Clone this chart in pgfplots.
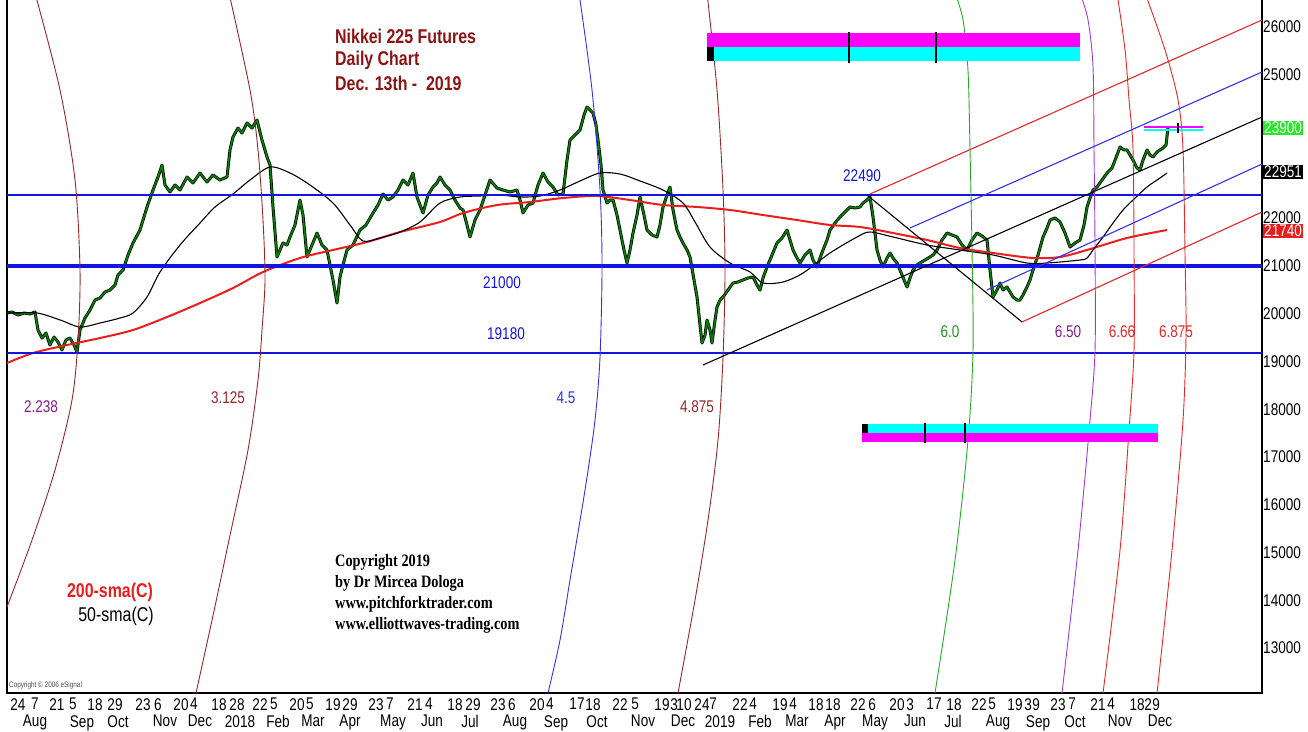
\documentclass[border=0pt]{standalone}
\usepackage{pgfplots}
\pgfplotsset{compat=1.18}
\usepackage{pgfplotstable}
\usepackage{fontspec}
\setmainfont{Liberation Sans}[FakeStretch=0.8]
\newfontfamily\serifb{Liberation Serif}[FakeStretch=0.82]
\definecolor{lineblue}{RGB}{20,20,225}
\definecolor{darkred}{RGB}{140,20,20}
\definecolor{arcbrown}{RGB}{150,40,40}
\definecolor{arcblue}{RGB}{50,50,235}
\definecolor{arcgreen}{RGB}{40,170,40}
\definecolor{arcpurple}{RGB}{160,60,210}
\definecolor{arcred}{RGB}{230,40,40}
\definecolor{smared}{RGB}{235,30,30}
\definecolor{candle}{RGB}{0,135,0}
\definecolor{lblpurple}{RGB}{130,30,140}
\definecolor{lblgreen}{RGB}{30,150,30}
\definecolor{boxgreen}{RGB}{40,230,40}
\definecolor{boxred}{RGB}{230,30,30}
\definecolor{barmag}{RGB}{255,0,255}
\definecolor{barcyan}{RGB}{0,255,255}

\pgfplotstableread{
x c
7 20014
12 20035
18 19972
24 20014
30 19993
35 20035
38 19658
42 19490
46 19595
50 19344
54 19511
58 19407
62 19240
66 19449
70 19490
74 19344
77 19198
80 19658
85 19909
90 20077
95 20286
100 20328
105 20453
110 20495
115 20600
118 20809
123 20914
128 21228
133 21479
140 21751
147 22233
153 22588
158 22860
162 23112
165 22693
170 22547
175 22693
180 22588
187 22860
193 22735
200 22944
207 22756
213 22902
220 22798
227 22860
230 23426
233 23698
238 23886
242 23781
247 23991
252 23886
257 24053
262 23635
267 23279
270 23112
273 22233
277 21186
280 21333
283 21479
287 21437
290 21605
295 21856
300 22379
303 22065
307 21186
312 21437
317 21688
322 21437
327 21333
330 21019
333 20705
337 20223
340 20767
343 21019
347 21333
353 21437
360 21751
366 21856
373 22107
378 22274
383 22505
388 22379
393 22442
398 22588
403 22798
408 22693
413 22944
417 22442
420 22274
423 22107
428 22484
433 22651
437 22735
440 22860
445 22693
450 22588
455 22379
460 22212
463 22170
467 21856
470 21605
475 21960
480 22170
485 22484
490 22798
497 22630
503 22588
510 22547
517 22588
520 22379
523 22107
528 22274
533 22316
538 22693
543 22944
548 22756
553 22651
558 22484
563 22505
567 23216
570 23635
575 23739
580 23844
584 24158
587 24325
590 24263
593 24200
596 23949
598 23635
601 23112
603 22588
607 22316
610 22379
613 22379
617 22065
620 21751
624 21333
627 21060
630 21333
633 21688
637 22065
640 22442
644 22065
647 21751
652 21647
657 21605
660 21856
663 22233
667 22484
670 22651
673 22170
677 21751
680 21605
683 21479
687 21333
690 21186
694 20705
697 20349
700 19763
702 19386
705 19553
707 19867
710 19658
712 19386
715 19867
717 20140
720 20286
723 20349
728 20495
733 20642
738 20663
743 20705
748 20747
753 20767
757 20600
760 20495
763 20747
767 20977
772 21228
777 21479
782 21584
787 21751
790 21542
793 21333
797 21165
800 21060
805 21228
810 21333
813 21123
817 20977
820 21165
823 21333
827 21542
830 21751
835 21898
840 22023
845 22128
850 22233
855 22212
860 22233
863 22316
867 22379
870 22442
873 22023
877 21333
880 21123
883 20977
887 21165
890 21270
893 21165
897 21060
902 20809
907 20558
910 20747
913 20914
917 21019
920 21060
925 21123
930 21186
933 21228
937 21333
942 21542
947 21688
952 21647
957 21605
962 21437
967 21333
972 21542
977 21688
982 21626
987 21542
990 20914
993 20349
997 20495
1000 20642
1003 20495
1007 20558
1010 20453
1013 20349
1017 20286
1020 20286
1023 20391
1027 20558
1030 20705
1033 20914
1038 21228
1043 21605
1047 21793
1050 21960
1055 22002
1060 21919
1065 21688
1070 21395
1075 21479
1080 21542
1084 21856
1087 22233
1090 22421
1093 22588
1097 22651
1102 22798
1107 22944
1112 23049
1117 23321
1120 23488
1124 23426
1127 23426
1130 23321
1133 23216
1137 23049
1140 23007
1143 23216
1147 23426
1150 23321
1153 23279
1157 23384
1160 23426
1163 23467
1166 23530
1168 23907
}\price

\pgfplotstableread{
x s
7 20014
37 20014
60 19869
80 19721
100 19805
120 19909
133 20014
147 20349
160 20872
180 21437
200 21898
215 22233
233 22505
250 22798
270 23070
290 22944
310 22693
333 22316
350 21856
363 21521
380 21584
400 21709
420 21919
440 22316
460 22442
480 22463
500 22484
520 22442
540 22463
560 22588
580 22777
600 22944
620 22923
640 22777
663 22588
683 22316
695 21919
710 21395
730 21060
750 20872
763 20642
783 20663
803 20851
830 21270
857 21605
870 21709
893 21605
927 21437
960 21333
993 21228
1027 21060
1047 21060
1080 21123
1087 21165
1093 21333
1103 21605
1113 21898
1123 22170
1133 22379
1147 22651
1160 22840
1167 22944
}\smafifty

\pgfplotstableread{
x s
7 18967
33 19177
67 19344
100 19490
133 19658
167 19930
200 20223
233 20537
263 20872
300 21165
333 21333
367 21500
400 21709
440 21919
463 22107
497 22274
530 22337
563 22421
597 22463
630 22379
663 22274
697 22233
730 22170
763 22065
797 21960
830 21856
860 21814
893 21688
927 21542
960 21374
993 21270
1033 21165
1060 21186
1087 21333
1127 21584
1167 21751
}\smatwohundred

\newcommand{\tickfont}{\fontsize{17}{17}\selectfont}
\newcommand{\lblfont}{\fontsize{17}{17}\selectfont}

\begin{document}
\begin{tikzpicture}[x=1bp,y=1bp]

% price axis
\begin{axis}[
  scale only axis, width=1255bp, height=700bp,
  xmin=7, xmax=1262, ymin=12061, ymax=26712,
  axis line style={black, line width=1.1pt},
  major tick length=0pt,
  scaled y ticks=false, scaled x ticks=false,
  yticklabel pos=right,
  ytick={13000,14000,15000,16000,17000,18000,19000,20000,21000,22000,25000,26000},
  yticklabel style={anchor=west, inner sep=1bp, font=\tickfont},
  /pgf/number format/1000 sep={},
  /pgf/number format/assume math mode=true,
  xtick={18,35,57,73,95,115,143,158,181,194,219,237,260,274,297,310,333,350,376,390,415,429,455,473,498,512,537,550,577,593,620,635,662,674,684,702,713,740,753,780,793,816,833,858,872,897,910,934,954,979,992,1015,1028,1036,1058,1072,1098,1111,1137,1148,1156},
  xticklabels={24,7,21,5,18,29,23,6,20,4,18,28,22,5,20,5,19,29,23,7,21,4,18,29,23,6,20,4,17,18,22,5,19,3,10,24,7,22,4,19,4,18,18,22,6,20,3,17,18,22,5,19,3,9,23,7,21,4,18,2,9},
  xticklabel style={anchor=north, inner sep=0pt, yshift=-5bp, font=\tickfont},
  extra x ticks={35,82,118,165,200,240,278,313,350,393,432,470,515,556,597,643,683,720,760,797,835,875,915,953,998,1038,1075,1120,1160},
  extra x tick labels={Aug,Sep,Oct,Nov,Dec,2018,Feb,Mar,Apr,May,Jun,Jul,Aug,Sep,Oct,Nov,Dec,2019,Feb,Mar,Apr,May,Jun,Jul,Aug,Sep,Oct,Nov,Dec},
  extra x tick style={major tick length=0pt, xticklabel style={yshift=-17bp}},
]
\addplot[black, line width=3bp, line join=round] table[x=x,y=c]{\price};
\addplot[candle, line width=1.5bp, line join=round] table[x=x,y=c]{\price};
\addplot[smared, line width=2bp, smooth] table[x=x,y=s]{\smatwohundred};
\addplot[black, line width=1.1bp, smooth] table[x=x,y=s]{\smafifty};
\addplot[lineblue, line width=2.2bp] coordinates {(7,22490) (1262,22490)};
\addplot[lineblue, line width=3.6bp] coordinates {(7,21000) (1262,21000)};
\addplot[lineblue, line width=2bp] coordinates {(7,19180) (1262,19180)};
\end{axis}

% annotation axis (pixel layout, y measured downward, stored negative)
\begin{axis}[
  scale only axis, width=1255bp, height=700bp,
  xmin=7, xmax=1262, ymin=-693, ymax=7,
  hide axis, clip mode=individual,
]
% time arcs
\addplot[arcbrown, line width=0.9bp, smooth] coordinates {(35,7) (60,-90) (75,-180) (80,-270) (78,-340) (72,-400) (55,-470) (32,-540) (7,-607)};
\addplot[arcbrown, line width=0.9bp, smooth] coordinates {(229,7) (250,-90) (258,-150) (263,-220) (265,-280) (262,-330) (258,-380) (248,-450) (229,-540) (214,-611) (196,-693)};
\addplot[arcblue, line width=0.9bp, smooth] coordinates {(579,7) (592,-90) (600,-190) (602,-267) (600,-357) (595,-420) (585,-490) (570,-580) (560,-640) (548,-693)};
\addplot[arcbrown, line width=0.9bp, smooth] coordinates {(707,7) (717,-90) (723,-190) (725,-270) (723,-357) (718,-440) (708,-520) (695,-600) (678,-693)};
\addplot[arcgreen, line width=0.9bp, smooth] coordinates {(955,7) (963,-20) (968,-71) (970,-150) (972,-250) (973,-350) (968,-440) (955,-560) (935,-693)};
\addplot[arcpurple, line width=0.9bp, smooth] coordinates {(1080,7) (1088,-20) (1093,-67) (1094,-150) (1095,-250) (1095,-350) (1090,-420) (1078,-550) (1062,-693)};
\addplot[arcred, line width=0.9bp, smooth] coordinates {(1117,7) (1125,-50) (1129,-100) (1133,-150) (1134,-256) (1134,-350) (1129,-430) (1120,-550) (1103,-693)};
\addplot[arcred, line width=0.9bp, smooth] coordinates {(1145,7) (1165,-50) (1178,-100) (1183,-150) (1185,-256) (1186,-333) (1183,-420) (1172,-550) (1157,-693)};
% pitchfork
\addplot[arcred, line width=1.1bp] coordinates {(870,-194) (1262,-20)};
\addplot[arcblue, line width=1.1bp] coordinates {(910,-228) (1262,-72)};
\addplot[black, line width=1.1bp] coordinates {(703,-365) (1262,-117)};
\addplot[arcblue, line width=1.1bp] coordinates {(987,-290) (1262,-164)};
\addplot[arcred, line width=1.1bp] coordinates {(1022,-322) (1262,-212)};
\addplot[black, line width=1.1bp] coordinates {(867,-195) (1022,-322)};
% top bar
\addplot[fill=barmag, draw=none] coordinates {(707,-33) (1080,-33) (1080,-47) (707,-47)} -- cycle;
\addplot[fill=barcyan, draw=none] coordinates {(707,-47) (1080,-47) (1080,-61) (707,-61)} -- cycle;
\addplot[fill=black, draw=none] coordinates {(707,-47) (714,-47) (714,-61) (707,-61)} -- cycle;
\addplot[black, line width=2bp] coordinates {(849,-32) (849,-63)};
\addplot[black, line width=2bp] coordinates {(936,-32) (936,-63)};
% bottom bar
\addplot[fill=barcyan, draw=none] coordinates {(862,-424) (1158,-424) (1158,-433) (862,-433)} -- cycle;
\addplot[fill=barmag, draw=none] coordinates {(862,-433) (1158,-433) (1158,-442) (862,-442)} -- cycle;
\addplot[fill=black, draw=none] coordinates {(862,-424) (868,-424) (868,-433) (862,-433)} -- cycle;
\addplot[black, line width=2bp] coordinates {(925,-423) (925,-443)};
\addplot[black, line width=2bp] coordinates {(965,-423) (965,-443)};
% small bar near last price
\addplot[barmag, line width=2bp] coordinates {(1144,-127) (1203,-127)};
\addplot[barcyan, line width=2bp] coordinates {(1144,-130) (1203,-130)};
\addplot[black, line width=2bp] coordinates {(1178,-123) (1178,-133)};

% texts
\node[anchor=west, text=darkred, font=\fontsize{20}{20}\selectfont\bfseries, inner sep=0pt] at (axis cs:335,-36) {Nikkei 225 Futures};
\node[anchor=west, text=darkred, font=\fontsize{20}{20}\selectfont\bfseries, inner sep=0pt] at (axis cs:335,-60) {Daily Chart};
\node[anchor=west, text=darkred, font=\fontsize{20}{20}\selectfont\bfseries, inner sep=0pt] at (axis cs:335,-83) {Dec. 13th -\ \ 2019};

\node[text=lineblue, font=\lblfont] at (axis cs:862,-176) {22490};
\node[text=lineblue, font=\lblfont] at (axis cs:502,-283) {21000};
\node[text=lineblue, font=\lblfont] at (axis cs:506,-334) {19180};

\node[text=lblpurple, font=\lblfont] at (axis cs:41,-407) {2.238};
\node[text=arcbrown, font=\lblfont] at (axis cs:228,-398) {3.125};
\node[text=arcblue, font=\lblfont] at (axis cs:566,-398) {4.5};
\node[text=arcbrown, font=\lblfont] at (axis cs:697,-407) {4.875};
\node[text=lblgreen, font=\lblfont] at (axis cs:950,-332) {6.0};
\node[text=lblpurple, font=\lblfont] at (axis cs:1068,-332) {6.50};
\node[text=arcred, font=\lblfont] at (axis cs:1122,-332) {6.66};
\node[text=arcred, font=\lblfont] at (axis cs:1176,-332) {6.875};

\node[text=smared, font=\fontsize{20}{20}\selectfont\bfseries] at (axis cs:110,-592) {200-sma(C)};
\node[text=black, font=\fontsize{20}{20}\selectfont] at (axis cs:116,-616) {50-sma(C)};

\node[anchor=west, inner sep=0pt, font=\serifb\fontsize{17.5}{17.5}\selectfont\bfseries] at (axis cs:335,-562) {Copyright 2019};
\node[anchor=west, inner sep=0pt, font=\serifb\fontsize{17.5}{17.5}\selectfont\bfseries] at (axis cs:335,-583) {by Dr Mircea Dologa};
\node[anchor=west, inner sep=0pt, font=\serifb\fontsize{17.5}{17.5}\selectfont\bfseries] at (axis cs:335,-604) {www.pitchforktrader.com};
\node[anchor=west, inner sep=0pt, font=\serifb\fontsize{17.5}{17.5}\selectfont\bfseries] at (axis cs:335,-625) {www.elliottwaves-trading.com};

\node[anchor=west, inner sep=0pt, text=black!70, font=\fontsize{8}{8}\selectfont] at (axis cs:9,-685) {Copyright \copyright{} 2006 eSignal};

% right value boxes
\node[anchor=west, fill=boxgreen, text=white, inner sep=1bp, font=\tickfont] at (axis cs:1263,-128) {23900};
\node[anchor=west, fill=black, text=white, inner sep=1bp, font=\tickfont] at (axis cs:1263,-172) {22951};
\node[anchor=west, fill=boxred, text=white, inner sep=1bp, font=\tickfont] at (axis cs:1263,-231) {21740};
\end{axis}

\pgfresetboundingbox
\path[use as bounding box] (-7,-38) rectangle (1301,693);
\end{tikzpicture}
\end{document}
